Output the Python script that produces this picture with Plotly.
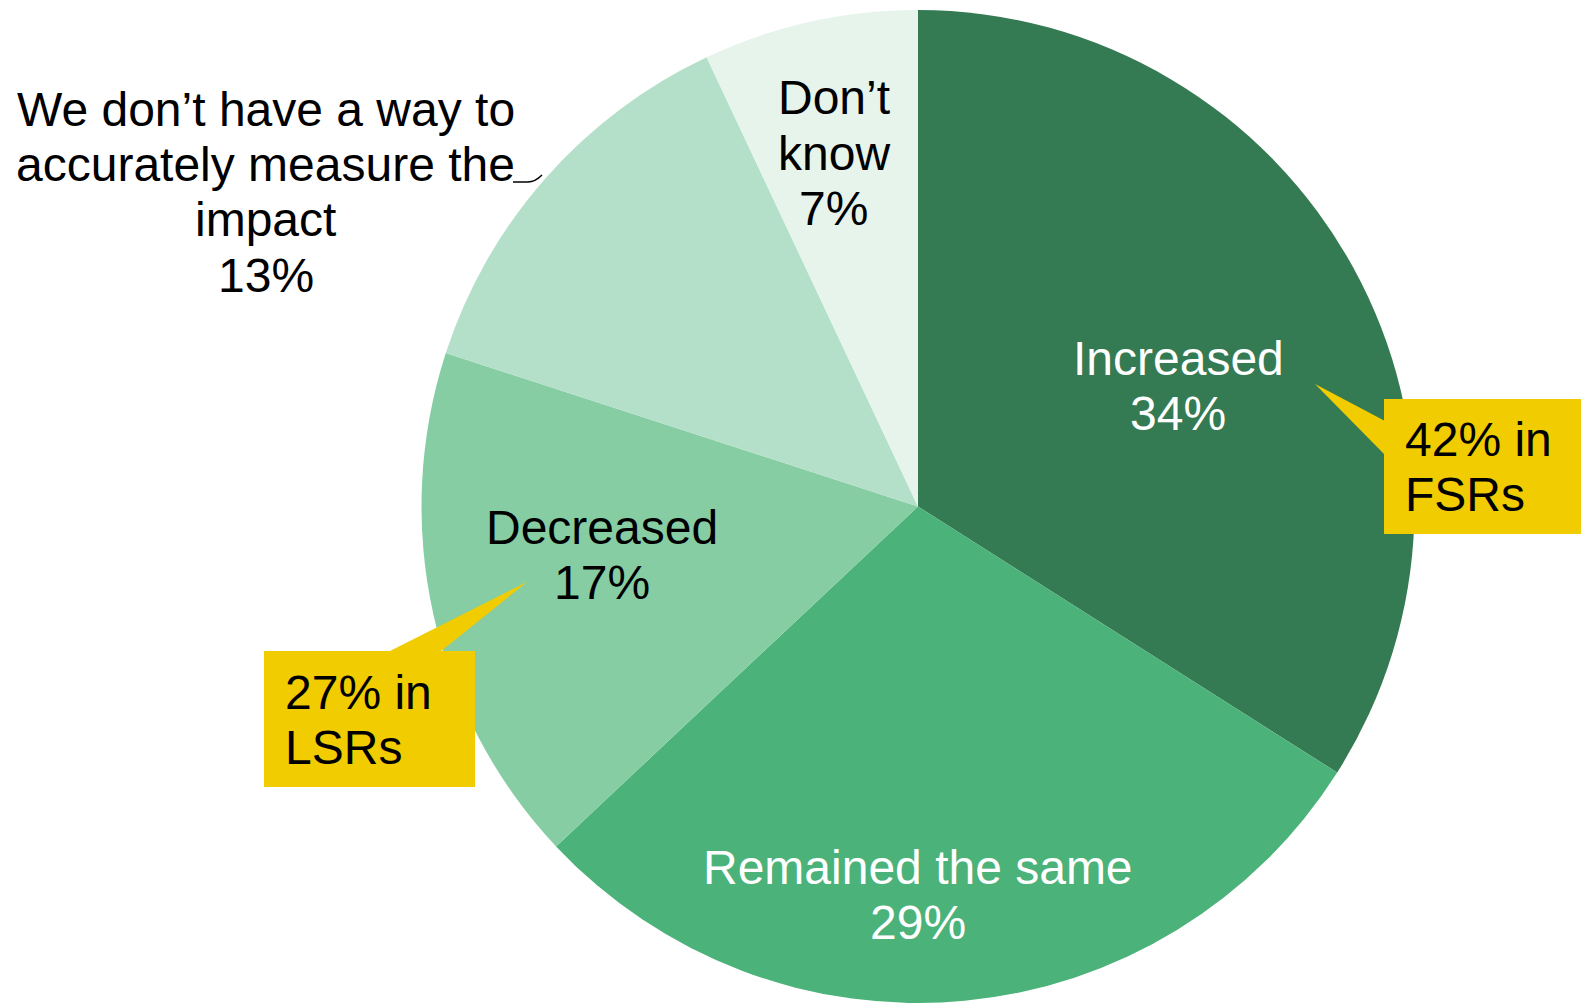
import plotly.graph_objects as go

# Survey responses: change in impact
categories = ["Increased", "Remained the same", "Decreased",
              "We don’t have a way to accurately measure the impact", "Don’t know"]
shares = [34, 29, 17, 13, 7]
slice_colors = ["#347A52", "#4BB279", "#86CDA4", "#B4E0C9", "#E6F4EC"]

# Call-out notes for sub-groups
callout_texts = [["42% in", "FSRs"], ["27% in", "LSRs"]]

W, H = 1581, 1003
FONT = "Liberation Sans, Arial, sans-serif"
FS = 48


def px(x):
    return x / W


def py(y):
    return 1 - y / H


fig = go.Figure(go.Pie(
    labels=categories,
    values=shares,
    sort=False,
    direction="clockwise",
    rotation=0,
    marker=dict(colors=slice_colors, line=dict(width=0)),
    textinfo="none",
    hoverinfo="skip",
    showlegend=False,
    domain=dict(x=[px(420), px(1416)], y=[0, py(10)]),
))

annotations = []


def add_lines(lines, x, y0, color, step=55.5, anchor="center"):
    for i, t in enumerate(lines):
        annotations.append(dict(
            x=px(x), y=py(y0 + i * step), xref="paper", yref="paper",
            text=t, showarrow=False, xanchor=anchor, yanchor="middle",
            font=dict(family=FONT, size=FS, color=color),
        ))


# Slice labels: category name plus share
label_specs = [
    (["Increased"], 1178, 358, "white"),
    (["Remained the same"], 917.5, 867, "white"),
    (["Decreased"], 602, 527, "black"),
    (["We don’t have a way to", "accurately measure the", "impact"], 265.5, 109, "black"),
    (["Don’t", "know"], 833.5, 98, "black"),
]
for (lines, x, y0, color), v in zip(label_specs, shares):
    add_lines(lines + [f"{v}%"], x, y0, color)

# Yellow call-out boxes with pointers
CALLOUT = "#F0CC00"
shapes = [
    dict(type="rect", xref="paper", yref="paper",
         x0=px(1384), x1=px(1581), y0=py(534), y1=py(399),
         fillcolor=CALLOUT, line=dict(width=0), layer="above"),
    dict(type="path", xref="paper", yref="paper",
         path=f"M {px(1315)},{py(384)} L {px(1385)},{py(421)} L {px(1385)},{py(455)} Z",
         fillcolor=CALLOUT, line=dict(width=0), layer="above"),
    dict(type="rect", xref="paper", yref="paper",
         x0=px(264), x1=px(475), y0=py(787), y1=py(651),
         fillcolor=CALLOUT, line=dict(width=0), layer="above"),
    dict(type="path", xref="paper", yref="paper",
         path=f"M {px(527)},{py(582)} L {px(440)},{py(652)} L {px(388)},{py(652)} Z",
         fillcolor=CALLOUT, line=dict(width=0), layer="above"),
    # leader line for the outside label
    dict(type="path", xref="paper", yref="paper",
         path=f"M {px(513)},{py(182)} L {px(528)},{py(182)} Q {px(535)},{py(182)} {px(542)},{py(175)}",
         line=dict(color="black", width=1.5), layer="above"),
]

add_lines(callout_texts[0], 1403, 440, "black", step=54.5, anchor="left")
add_lines(callout_texts[1], 283, 692, "black", step=55, anchor="left")

fig.update_layout(
    width=W, height=H,
    margin=dict(l=0, r=0, t=0, b=0),
    paper_bgcolor="white",
    plot_bgcolor="white",
    annotations=annotations,
    shapes=shapes,
)

fig.write_html("out.html")
